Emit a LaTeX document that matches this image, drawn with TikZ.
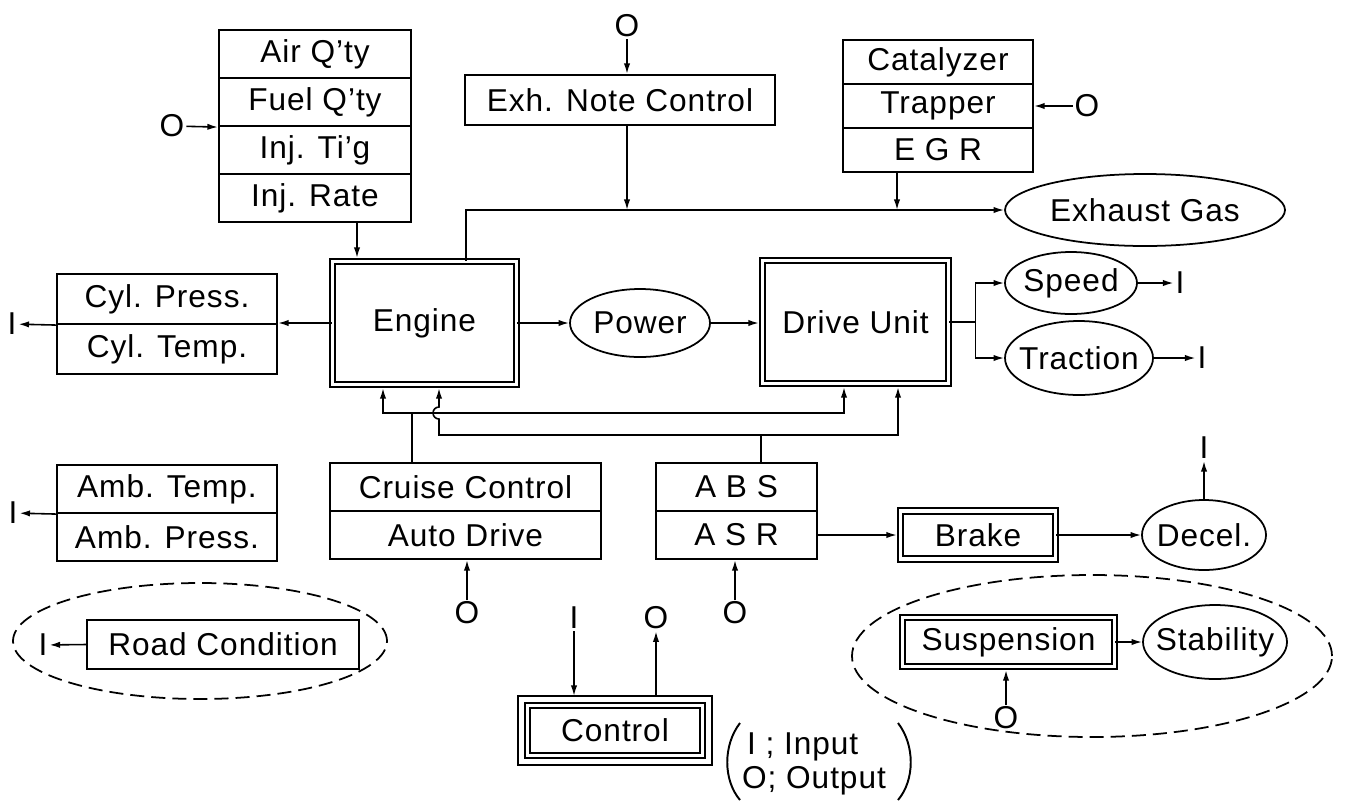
\documentclass[tikz,border=0pt]{standalone}
\usepackage{fontspec}
\setmainfont{Liberation Sans}[LetterSpace=3]
\usetikzlibrary{arrows.meta,calc,shapes.geometric}
\def\PX{0.02cm}
\begin{document}
\begin{tikzpicture}[x=0.02cm,y=-0.02cm,
  font=\fontsize{18}{21}\selectfont,
  wh/.style 2 args={minimum width=#1*\PX, minimum height=#2*\PX},
  cell/.style={draw, line width=1.2pt, inner sep=0pt},
  dbl/.style={draw, double, double distance=2.2pt, line width=0.9pt, inner sep=0pt},
  ell/.style={draw, ellipse, line width=1pt, inner sep=0pt},
  dsh/.style={draw, ellipse, line width=1pt, dash pattern=on 8pt off 4pt, inner sep=0pt},
  lab/.style={inner sep=1pt},
  arr/.style={-{Latex[length=6pt,width=3.6pt]}, line width=0.9pt},
  con/.style={line width=0.9pt},
  into/.style={arr, shorten >=1.6pt}]
\useasboundingbox (0,0) rectangle (1345,802);

% fuel stack
\node[cell,wh={192}{48}] (air)  at (315,54)  {Air Q'ty};
\node[cell,wh={192}{48}] (fuel) at (315,102) {Fuel Q'ty};
\node[cell,wh={192}{48}] (injt) at (315,150) {Inj. Ti'g};
\node[cell,wh={192}{48}] (injr) at (315,198) {Inj. Rate};
\node[lab] (oF) at (172,126) {O};
\draw[arr] (oF) -- (fuel.south west);

% exh note control
\node[lab] (oX) at (627,26) {O};
\node[cell,wh={310}{50}] (exh) at (620,100) {Exh. Note Control};
\draw[arr] (oX) -- (oX |- exh.north);

% catalyzer stack
\node[cell,wh={190}{44}] (cat)  at (938,62)  {Catalyzer};
\node[cell,wh={190}{44}] (trap) at (938,106) {Trapper};
\node[cell,wh={190}{44}] (egr)  at (938,150) {E G R};
\node[lab] (oT) at (1087,106) {O};
\draw[arr] (oT) -- (trap.east);

% engine, power, drive unit
\node[dbl,wh={184}{123}] (eng) at (424.5,323) {Engine};
\node[ell,wh={140}{68},label=center:Power] (pow) at (640,323) {};
\node[dbl,wh={186}{123}] (drv) at (855.5,322) {Drive Unit};
\draw[arr] (eng.east) -- (pow.west);
\draw[into] (pow.east) -- (pow.east -| drv.west);

% injection to engine
\coordinate (p1) at ($(injr.south)+(42,0)$);
\draw[into] (p1) -- (p1 |- eng.north);

% exhaust
\node[ell,wh={280}{72},label=center:Exhaust Gas] (exg) at (1145,210) {};
\coordinate (ex1) at ($(eng.north)+(41.5,0)$);
\draw[arr] (ex1) |- (exg.west);
\draw[arr] (exh.south -| oX) -- (oX |- exg.west);
\coordinate (eg1) at ($(egr.south)+(-41,0)$);
\draw[arr] (eg1) -- (eg1 |- exg.west);

% cylinder
\node[cell,wh={220}{50}] (cylp) at (167,299) {Cyl. Press.};
\node[cell,wh={220}{50}] (cylt) at (167,349) {Cyl. Temp.};
\node[lab] (iC) at (12,324) {I};
\draw[arr] (eng.west) -- (eng.west -| cylp.east);
\draw[arr] (cylp.south west) -- (iC);

% speed / traction
\node[ell,wh={132}{62},label=center:Speed] (spd) at (1071,283) {};
\node[ell,wh={148}{74},label=center:Traction] (trc) at (1079,358) {};
\coordinate (br) at ($(drv.east)+(26,0)$);
\draw[con] (drv.east) -- (br);
\draw[arr] (br) |- (spd.west);
\draw[arr] (br) |- (trc.west);
\node[lab] (iS) at (1180,283) {I};
\node[lab] (iT) at (1202,358) {I};
\draw[arr] (spd) -- (iS);
\draw[arr] (trc) -- (iT);

% cruise / abs
\node[cell,wh={271}{48}] (cru) at (465.5,487) {Cruise Control};
\node[cell,wh={271}{48}] (aut) at (465.5,535) {Auto Drive};
\node[cell,wh={161}{48}] (abs) at (736.5,487) {A B S};
\node[cell,wh={161}{48}] (asr) at (736.5,535) {A S R};
\node[dbl,wh={155}{48}] (brk) at (978,535) {Brake};
\node[ell,wh={124}{70},label=center:Decel.] (dec) at (1204,535) {};
\draw[into] (asr.east) -- (brk.west);
\draw[arr] (brk.east) -- (dec.west);
\node[lab] (iD) at (1204,448) {I};
\draw[arr] (dec.north) -- (iD);
\node[lab] (oC) at (467,613) {O};
\draw[arr] (oC) -- (oC |- aut.south);
\node[lab] (oA) at (735,613) {O};
\draw[arr] (oA) -- (oA |- asr.south);

% control buses
\coordinate (e1) at (383,0);
\coordinate (e2) at (439,0);
\coordinate (d1) at (844,0);
\coordinate (d2) at (898,0);
\coordinate (c0) at (412,413);
\coordinate (a0) at (761,435);
\draw[con] (cru.north -| c0) -- (c0);
\draw[into] (c0) -| (e1 |- eng.south);
\draw[into] (c0) -| (d1 |- drv.south);
\draw[con] (abs.north -| a0) -- (a0);
\draw[into] (a0) -| (d2 |- drv.south);
\draw[into] (a0) -- (e2 |- a0) -- (439,419) arc[start angle=90,end angle=270,radius=6] -- (e2 |- eng.south);

% ambient
\node[cell,wh={220}{48}] (ambt) at (167,489) {Amb. Temp.};
\node[cell,wh={220}{48}] (ambp) at (167,537) {Amb. Press.};
\node[lab] (iA) at (13,513) {I};
\draw[arr] (ambt.south west) -- (iA);

% road condition group
\node[dsh,wh={374}{116}] (rgrp) at (200,641) {};
\node[cell,wh={272}{49}] (road) at (223,644.5) {Road Condition};
\node[lab] (iR) at (43,645) {I};
\draw[arr] (road.west) -- (iR);

% suspension group
\node[dsh,wh={480}{162}] (sgrp) at (1092,656) {};
\node[dbl,wh={212}{49}] (sus) at (1008.5,642) {Suspension};
\node[ell,wh={144}{74},label=center:Stability] (stb) at (1215,642) {};
\draw[arr] (sus.east) -- (stb.west);
\node[lab] (oS) at (1006,718) {O};
\draw[into] (oS) -- (oS |- sus.south);

% control legend
\node[cell,wh={180}{55}] (ctl) at (615,730.5) {Control};
\draw[line width=1.1pt] ($(ctl.north west)+(-6,-6)$) rectangle ($(ctl.south east)+(6,6)$);
\draw[line width=1.1pt] ($(ctl.north west)+(6,6)$) rectangle ($(ctl.south east)+(-6,-6)$);
\coordinate (ctop) at ($(ctl.north)+(0,-6)$);
\node[lab] (iCt) at (574,618) {I};
\node[lab] (oCt) at (656,618) {O};
\draw[arr] (iCt) -- (iCt |- ctop);
\draw[arr] (oCt |- ctop) -- (oCt);

\node[lab,anchor=west] (lg1) at (745,747) {I ; Input};
\node[lab,anchor=west] (lg2) at (740,781) {O; Output};
\draw[line width=1.1pt] (740,723) .. controls (723,745) and (723,780) .. (740,800);
\draw[line width=1.1pt] (898,723) .. controls (915,745) and (915,780) .. (898,800);
\end{tikzpicture}
\end{document}
